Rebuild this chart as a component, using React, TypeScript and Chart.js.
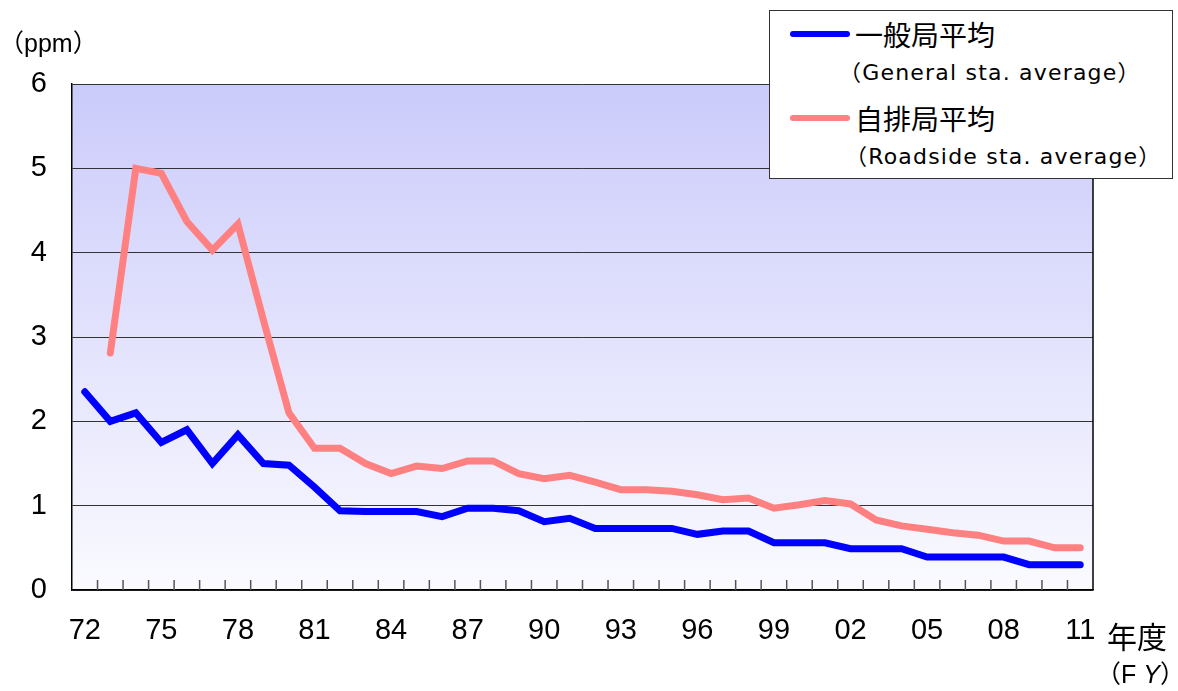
import React, { useEffect, useRef } from "react";
import { Chart, registerables } from "chart.js";

Chart.register(...registerables);

const yearLabels = [
  "72", "73", "74", "75", "76", "77", "78", "79", "80", "81",
  "82", "83", "84", "85", "86", "87", "88", "89", "90", "91",
  "92", "93", "94", "95", "96", "97", "98", "99", "00", "01",
  "02", "03", "04", "05", "06", "07", "08", "09", "10", "11",
];

const generalAvg = [
  2.35, 2.0, 2.1, 1.75, 1.9, 1.5, 1.84, 1.5, 1.48, 1.22,
  0.94, 0.93, 0.93, 0.93, 0.87, 0.97, 0.97, 0.94, 0.81, 0.85,
  0.73, 0.73, 0.73, 0.73, 0.66, 0.7, 0.7, 0.56, 0.56, 0.56,
  0.49, 0.49, 0.49, 0.39, 0.39, 0.39, 0.39, 0.3, 0.3, 0.3,
];

const roadsideAvg = [
  null, 2.81, 5.0, 4.94, 4.37, 4.03, 4.34, 3.2, 2.1, 1.68,
  1.68, 1.5, 1.38, 1.47, 1.44, 1.53, 1.53, 1.38, 1.32, 1.36,
  1.28, 1.19, 1.19, 1.17, 1.13, 1.07, 1.09, 0.97, 1.01, 1.06,
  1.02, 0.83, 0.76, 0.72, 0.68, 0.65, 0.58, 0.58, 0.5, 0.5,
];

const generalName = "一般局平均";
const generalSub = "General sta. average";
const roadsideName = "自排局平均";
const roadsideSub = "Roadside sta. average";

const FONT = '"Liberation Sans", "Noto Sans CJK JP", sans-serif';
const TICK_FONT = '"Liberation Sans Narrow", "Liberation Sans", sans-serif';
const CJK_FONT = '"Noto Sans CJK JP", sans-serif';
const SUB_FONT = '"DejaVu Sans", "Noto Sans CJK JP", sans-serif';

const backgroundPlugin = {
  id: "bgGradient",
  beforeDraw(chart: any) {
    const { ctx, chartArea } = chart;
    if (!chartArea) return;
    const g = ctx.createLinearGradient(0, chartArea.top, 0, chartArea.bottom);
    g.addColorStop(0, "#CBCBFB");
    g.addColorStop(1, "#FAFAFF");
    ctx.save();
    ctx.fillStyle = g;
    ctx.fillRect(chartArea.left, chartArea.top, chartArea.right - chartArea.left, chartArea.bottom - chartArea.top);
    ctx.restore();
  },
  afterDraw(chart: any) {
    const { ctx, chartArea } = chart;
    const xs = chart.scales.x;
    ctx.save();
    ctx.strokeStyle = "#555";
    ctx.lineWidth = 1.5;
    const n = xs.ticks.length;
    for (let i = 1; i < n; i++) {
      const x = (xs.getPixelForValue(i - 1) + xs.getPixelForValue(i)) / 2;
      ctx.beginPath();
      ctx.moveTo(x, chartArea.bottom);
      ctx.lineTo(x, chartArea.bottom - 10);
      ctx.stroke();
    }
    ctx.strokeStyle = "#000";
    ctx.lineWidth = 1.5;
    ctx.beginPath();
    ctx.moveTo(chartArea.right, chartArea.top);
    ctx.lineTo(chartArea.right, chartArea.bottom);
    ctx.stroke();
    ctx.restore();
  },
};

export default function App() {
  const canvasRef = useRef<HTMLCanvasElement | null>(null);

  useEffect(() => {
    if (!canvasRef.current) return;
    Chart.defaults.font.family = FONT;
    const chart = new Chart(canvasRef.current, {
      type: "line",
      data: {
        labels: yearLabels,
        datasets: [
          {
            label: generalName,
            data: generalAvg,
            borderColor: "#0000FF",
            backgroundColor: "#0000FF",
            borderWidth: 7,
            pointRadius: 0,
            tension: 0,
            borderCapStyle: "round",
            borderJoinStyle: "miter",
          },
          {
            label: roadsideName,
            data: roadsideAvg,
            borderColor: "#FF8080",
            backgroundColor: "#FF8080",
            borderWidth: 7,
            pointRadius: 0,
            tension: 0,
            borderCapStyle: "round",
            borderJoinStyle: "miter",
            spanGaps: false,
          },
        ],
      },
      options: {
        animation: false,
        responsive: true,
        maintainAspectRatio: false,
        layout: { padding: { left: 0, top: 84, right: 85, bottom: 0 } },
        plugins: {
          legend: { display: false },
          tooltip: { enabled: false },
        },
        scales: {
          x: {
            type: "category",
            offset: true,
            grid: { display: false, drawTicks: false },
            border: { display: true, color: "#000", width: 1.5 },
            ticks: {
              autoSkip: false,
              maxRotation: 0,
              minRotation: 0,
              padding: 24,
              color: "#000",
              font: { size: 29, family: TICK_FONT },
              callback: (_v: any, i: number) => (i % 3 === 0 ? yearLabels[i] : ""),
            },
            afterFit: (s: any) => {
              s.height = 101;
            },
          },
          y: {
            min: 0,
            max: 6,
            grid: { color: "#333", lineWidth: 1, drawTicks: false },
            border: { display: true, color: "#000", width: 1.5 },
            ticks: {
              stepSize: 1,
              padding: 25,
              color: "#000",
              font: { size: 29, family: TICK_FONT },
            },
            afterFit: (s: any) => {
              s.width = 72;
            },
          },
        },
      },
      plugins: [backgroundPlugin],
    } as any);
    return () => chart.destroy();
  }, []);

  const legendLine = (color: string, top: number) => (
    <div
      style={{
        position: "absolute",
        left: 790,
        top: top - 3,
        width: 60,
        height: 6,
        borderRadius: 3,
        background: color,
      }}
    />
  );

  const paren = (s: string) => <span style={{ fontFamily: CJK_FONT }}>{s}</span>;

  return (
    <div
      style={{
        position: "fixed",
        left: 0,
        top: 0,
        width: 1178,
        height: 691,
        background: "#fff",
        fontFamily: FONT,
        color: "#000",
      }}
    >
      <canvas ref={canvasRef} style={{ position: "absolute", left: 0, top: 0, width: 1178, height: 691 }} />
      <div style={{ position: "absolute", left: -1, top: 26, fontSize: 25, lineHeight: "30px", whiteSpace: "nowrap" }}>
        {paren("（")}ppm{paren("）")}
      </div>
      <div
        style={{
          position: "absolute",
          left: 769,
          top: 10,
          width: 402,
          height: 167,
          background: "#fff",
          border: "1px solid #333",
        }}
      />
      {legendLine("#0000FF", 34)}
      <div style={{ position: "absolute", left: 855, top: 16, fontSize: 28, lineHeight: "36px", whiteSpace: "nowrap", fontFamily: CJK_FONT }}>
        {generalName}
      </div>
      <div style={{ position: "absolute", left: 839, top: 55, fontSize: 22, lineHeight: "30px", whiteSpace: "nowrap", fontFamily: SUB_FONT, letterSpacing: "1.2px" }}>
        {paren("（")}{generalSub}{paren("）")}
      </div>
      {legendLine("#FF8080", 118)}
      <div style={{ position: "absolute", left: 855, top: 100, fontSize: 28, lineHeight: "36px", whiteSpace: "nowrap", fontFamily: CJK_FONT }}>
        {roadsideName}
      </div>
      <div style={{ position: "absolute", left: 845, top: 139, fontSize: 22, lineHeight: "30px", whiteSpace: "nowrap", fontFamily: SUB_FONT, letterSpacing: "1.2px" }}>
        {paren("（")}{roadsideSub}{paren("）")}
      </div>
      <div style={{ position: "absolute", left: 1107, top: 616, fontSize: 30, lineHeight: "38px", whiteSpace: "nowrap", fontFamily: CJK_FONT }}>
        年度
      </div>
      <div style={{ position: "absolute", left: 1096, top: 656, fontSize: 25, lineHeight: "32px", whiteSpace: "nowrap" }}>
        {paren("（")}F <span style={{ fontStyle: "italic" }}>Y</span>{paren("）")}
      </div>
    </div>
  );
}
